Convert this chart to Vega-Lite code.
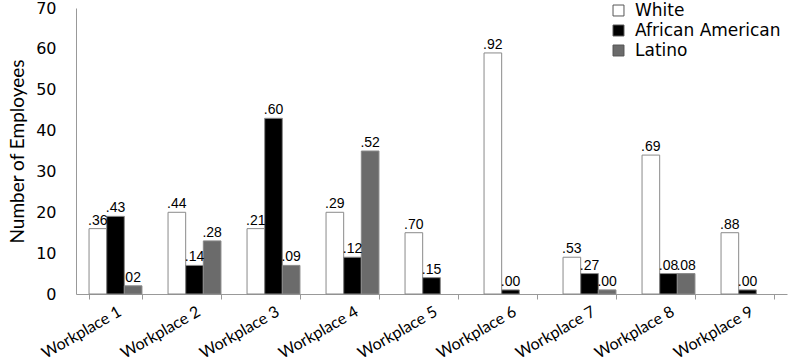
{
  "$schema": "https://vega.github.io/schema/vega-lite/v6.json",
  "width": 711,
  "height": 286,
  "autosize": {"type": "none"},
  "padding": {"left": 76, "top": 8, "right": 3, "bottom": 69},
  "background": "white",
  "data": {
    "values": [
      {"workplace": "Workplace 1", "race": "White", "count": 16, "label": ".36"},
      {"workplace": "Workplace 1", "race": "African American", "count": 19, "label": ".43"},
      {"workplace": "Workplace 1", "race": "Latino", "count": 2, "label": "02"},
      {"workplace": "Workplace 2", "race": "White", "count": 20, "label": ".44"},
      {"workplace": "Workplace 2", "race": "African American", "count": 7, "label": ".14"},
      {"workplace": "Workplace 2", "race": "Latino", "count": 13, "label": ".28"},
      {"workplace": "Workplace 3", "race": "White", "count": 16, "label": ".21"},
      {"workplace": "Workplace 3", "race": "African American", "count": 43, "label": ".60"},
      {"workplace": "Workplace 3", "race": "Latino", "count": 7, "label": ".09"},
      {"workplace": "Workplace 4", "race": "White", "count": 20, "label": ".29"},
      {"workplace": "Workplace 4", "race": "African American", "count": 9, "label": ".12"},
      {"workplace": "Workplace 4", "race": "Latino", "count": 35, "label": ".52"},
      {"workplace": "Workplace 5", "race": "White", "count": 15, "label": ".70"},
      {"workplace": "Workplace 5", "race": "African American", "count": 4, "label": ".15"},
      {"workplace": "Workplace 6", "race": "White", "count": 59, "label": ".92"},
      {"workplace": "Workplace 6", "race": "African American", "count": 1, "label": ".00"},
      {"workplace": "Workplace 7", "race": "White", "count": 9, "label": ".53"},
      {"workplace": "Workplace 7", "race": "African American", "count": 5, "label": ".27"},
      {"workplace": "Workplace 7", "race": "Latino", "count": 1, "label": ".00"},
      {"workplace": "Workplace 8", "race": "White", "count": 34, "label": ".69"},
      {"workplace": "Workplace 8", "race": "African American", "count": 5, "label": ".08"},
      {"workplace": "Workplace 8", "race": "Latino", "count": 5, "label": ".08"},
      {"workplace": "Workplace 9", "race": "White", "count": 15, "label": ".88"},
      {"workplace": "Workplace 9", "race": "African American", "count": 1, "label": ".00"}
    ]
  },
  "encoding": {
    "x": {
      "field": "workplace",
      "type": "nominal",
      "sort": null,
      "scale": {"paddingInner": 0.33, "paddingOuter": 0.165},
      "axis": {
        "title": null,
        "labelAngle": -30,
        "labelAlign": "right",
        "labelBaseline": "top",
        "labelFont": "Lato",
        "labelFontSize": 16,
        "labelColor": "black",
        "labelPadding": 4,
        "domainColor": "#999999",
        "tickColor": "#999999",
        "tickBand": "extent",
        "tickSize": 5,
        "ticks": true
      }
    },
    "xOffset": {
      "field": "race",
      "type": "nominal",
      "sort": ["White", "African American", "Latino"],
      "scale": {"paddingInner": 0, "paddingOuter": 0}
    },
    "y": {
      "field": "count",
      "type": "quantitative",
      "scale": {"domain": [0, 70], "nice": false},
      "axis": {
        "title": "Number of Employees",
        "titleFont": "Lato",
        "titleFontSize": 19,
        "titleFontWeight": "normal",
        "titleColor": "black",
        "titlePadding": 8,
        "values": [0, 10, 20, 30, 40, 50, 60, 70],
        "grid": false,
        "labelFont": "DejaVu Sans",
        "labelFontSize": 16,
        "labelColor": "black",
        "labelPadding": 20,
        "domainColor": "#999999",
        "ticks": false
      }
    }
  },
  "layer": [
    {
      "mark": {"type": "bar", "stroke": "#8a8a8a", "strokeWidth": 1},
      "encoding": {
        "color": {
          "field": "race",
          "type": "nominal",
          "sort": ["White", "African American", "Latino"],
          "scale": {"domain": ["White", "African American", "Latino"], "range": ["#ffffff", "#000000", "#6b6b6b"]},
          "legend": {
            "title": null,
            "orient": "none",
            "legendX": 534,
            "legendY": -6,
            "symbolType": "square",
            "symbolSize": 120,
            "symbolStrokeColor": "#555555",
            "symbolStrokeWidth": 1,
            "symbolOffset": 0,
            "labelOffset": 8,
            "labelFont": "DejaVu Sans",
            "labelFontSize": 17,
            "labelColor": "black",
            "rowPadding": 2,
            "padding": 0
          }
        }
      }
    },
    {
      "mark": {"type": "text", "baseline": "bottom", "dy": -1, "font": "Liberation Sans", "fontSize": 14, "color": "black"},
      "encoding": {"text": {"field": "label"}}
    }
  ],
  "config": {"view": {"stroke": null}}
}
